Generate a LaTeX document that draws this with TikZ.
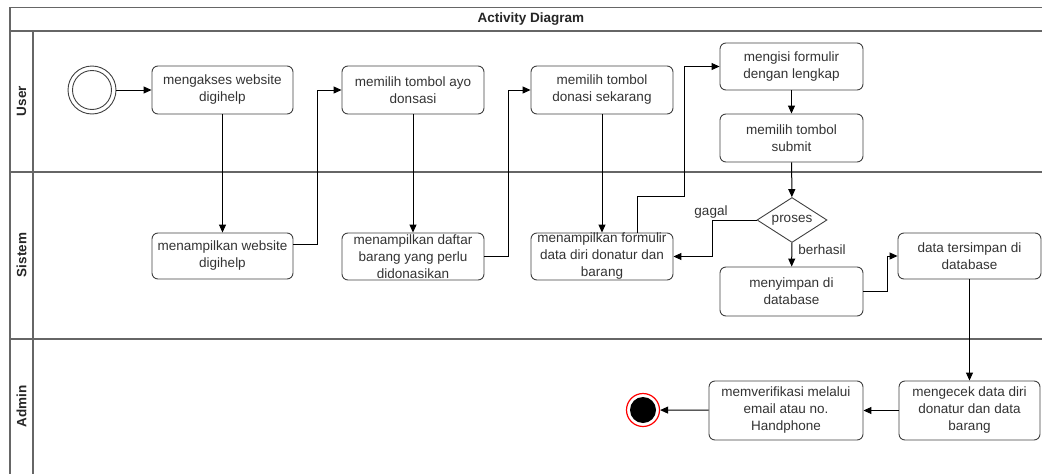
\documentclass[tikz,border=0pt]{standalone}
\usepackage{fontspec}
\setmainfont{Liberation Sans}
\usetikzlibrary{arrows.meta,shapes.geometric,calc}
\begin{document}
\begin{tikzpicture}[x=1pt,y=-1pt,
  font=\fontsize{13.5}{17}\selectfont,
  act/.style={draw=black!75, rounded corners=6pt, line width=0.9pt, align=center, inner sep=0pt, text=black!80},
  flow/.style={draw=black, line width=1pt, -{Triangle[length=8pt,width=7pt]}},
  lane/.style={draw=black!60, line width=1.4pt},
  lanelbl/.style={font=\bfseries\fontsize{13.5}{16}\selectfont, rotate=90, text=black!85},
  elbl/.style={text=black!80, inner sep=1pt}
]
\useasboundingbox (0,0) rectangle (1042,474);
\begin{scope}
  \clip (0,0) rectangle (1042,474);
  % frame, title band, header column, lane separators
  \draw[lane] (10,7.5) rectangle (1060,495);
  \draw[lane] (10,31) -- (1060,31);
  \draw[lane] (33,31) -- (33,495);
  \draw[lane] (10,172) -- (1060,172);
  \draw[lane] (10,339) -- (1060,339);
\end{scope}
\node[font=\bfseries\fontsize{13.5}{16}\selectfont, text=black!85] (title) at (531,19) {Activity Diagram};
\node[lanelbl] (lu) at (21.5,101) {User};
\node[lanelbl] (ls) at (21.5,255) {Sistem};
\node[lanelbl] (la) at (21.5,406) {Admin};

% start and end
\node[circle, draw=black!75, line width=0.9pt, minimum size=48pt, inner sep=0pt] (start) at (92,90) {};
\draw[black!75, line width=0.9pt] (start.center) circle[radius=19.5pt];
\node[circle, draw=red, line width=1.2pt, fill=white, minimum size=33pt, inner sep=0pt] (end) at (643,410) {};
\fill[black] (end.center) circle[radius=13pt];

% User lane
\node[act, minimum width=141pt, minimum height=48pt] (A1) at (222.5,90) {mengakses website\\digihelp};
\node[act, minimum width=142pt, minimum height=48pt] (A2) at (413,90) {memilih tombol ayo\\donsasi};
\node[act, minimum width=142pt, minimum height=48pt] (A3) at (602,90) {memilih tombol\\donasi sekarang};
\node[act, minimum width=143pt, minimum height=47pt] (A4) at (791.5,66.5) {mengisi formulir\\dengan lengkap};
\node[act, minimum width=143pt, minimum height=48pt] (A5) at (791.5,138) {memilih tombol\\submit};

% Sistem lane
\node[act, minimum width=141pt, minimum height=46pt] (S1) at (222.5,256) {menampilkan website\\digihelp};
\node[act, minimum width=142pt, minimum height=47pt] (S2) at (413,256.5) {menampilkan daftar\\barang yang perlu\\didonasikan};
\node[act, minimum width=142pt, minimum height=47pt] (S3) at (602,256.5) {menampilkan formulir\\data diri donatur dan\\barang};
\node[diamond, draw=black!75, line width=0.9pt, aspect=1.5, minimum width=70pt, minimum height=45pt, inner sep=0pt, text=black!80] (dec) at (792,220) {proses};
\node[act, minimum width=143pt, minimum height=49pt] (S4) at (791.5,291.5) {menyimpan di\\database};
\node[act, minimum width=143pt, minimum height=46pt] (S5) at (969.5,256) {data tersimpan di\\database};

% Admin lane
\node[act, minimum width=141pt, minimum height=59pt] (D1) at (969.5,410.5) {mengecek data diri\\donatur dan data\\barang};
\node[act, minimum width=154pt, minimum height=59pt] (D2) at (786,410.5) {memverifikasi melalui\\email atau no.\\Handphone};

\coordinate (c1) at (684,196);

% connectors
\draw[flow] (start) -- (A1);
\draw[flow] (A1) -- (S1);
\draw[flow] ([yshift=12pt]S1.east) -- ++(24,0) |- (A2.west);
\draw[flow] (A2) -- (S2);
\draw[flow] (S2.east) -- ++(24,0) |- (A3.west);
\draw[flow] (A3) -- (S3);
\draw[flow] ([xshift=35pt]S3.north) |- (c1) |- (A4.west);
\draw[flow] (A4) -- (A5);
\draw[flow] (A5) -- (dec);
\draw[flow] (dec.west) -- ++(-44,0) |- (S3.east);
\draw[flow] (dec) -- (S4);
\draw[flow] (S4.east) -- ++(24,0) |- (S5.west);
\draw[flow] (S5) -- (D1);
\draw[flow] (D1) -- (D2);
\draw[flow] (D2) -- (end);

\node[elbl] (lg) at (711,212) {gagal};
\node[elbl] (lb) at (822,250) {berhasil};
\end{tikzpicture}
\end{document}
